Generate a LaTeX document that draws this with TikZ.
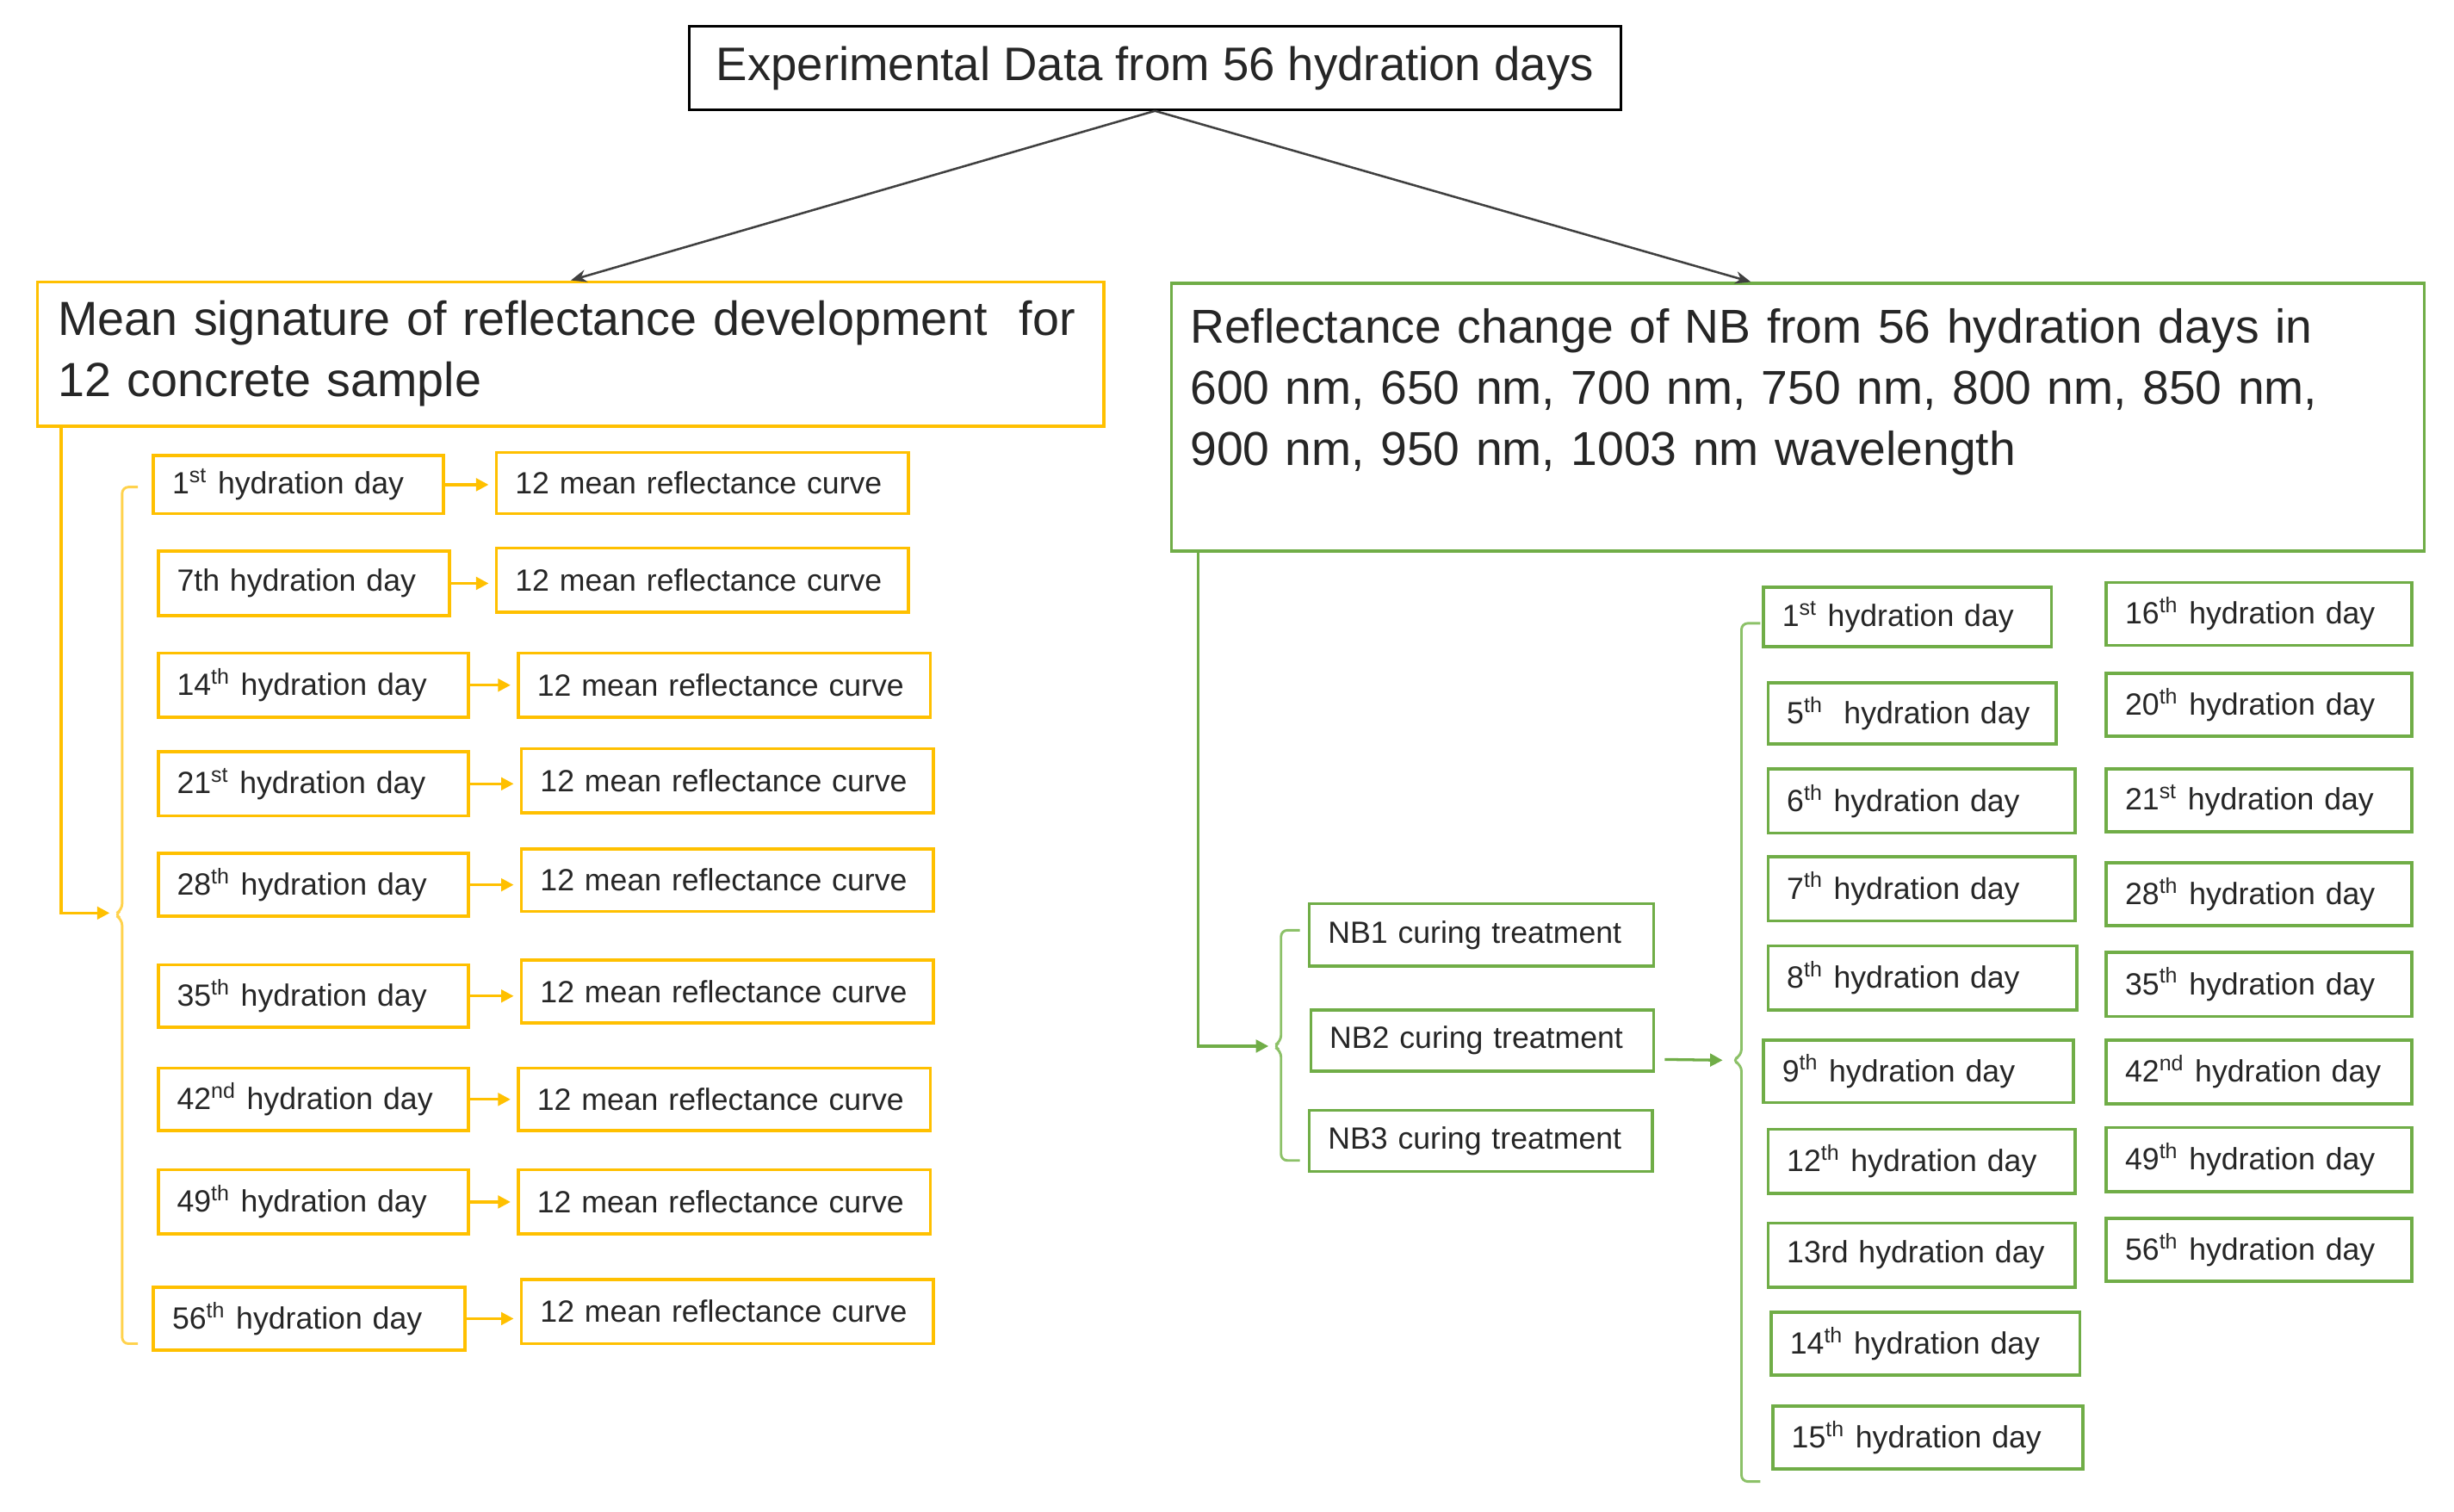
\documentclass[tikz,border=0pt]{standalone}
\usepackage{fontspec}
\setmainfont{Liberation Sans}
\usetikzlibrary{arrows.meta}
\definecolor{yel}{HTML}{FFC000}
\definecolor{yell}{HTML}{FFD24D}
\definecolor{grn}{HTML}{70AD47}
\definecolor{grnl}{HTML}{8CC168}
\definecolor{txt}{HTML}{262626}
\definecolor{arr}{HTML}{404040}
\newcommand{\bx}[7]{%
  \pgfmathsetmacro\bxw{(#5-#3)*0.5}%
  \pgfmathsetmacro\bxh{(#6-#4)*0.5}%
  \pgfmathsetmacro\bxt{(#5-#3)*0.5-12}%
  \node[#2, minimum width=\bxw pt, minimum height=\bxh pt, text width=\bxt pt] (#1) at ({(#3+#5)/2},{(#4+#6)/2}) {\mbox{#7}};}
\begin{document}
\begin{tikzpicture}[x=0.5pt,y=-0.5pt,
  smallbox/.style={draw, line width=1pt, inner xsep=6pt, inner ysep=0pt, align=left,
    font=\fontsize{9.8}{12}\selectfont, text=txt},
  ybox/.style={smallbox, draw=yel},
  gbox/.style={smallbox, draw=grn},
  headbox/.style={draw, line width=1pt, inner ysep=0pt, align=left, text=txt},
  yarr/.style={draw=yel, line width=0.9pt, -{Triangle[length=4pt,width=4pt]}},
  garr/.style={draw=grn, line width=0.9pt, -{Triangle[length=4pt,width=4pt]}},
  yline/.style={draw=yell, line width=0.8pt},
  gline/.style={draw=grnl, line width=0.8pt},
  blackarr/.style={draw=arr, line width=0.7pt, -{Stealth[length=5pt,width=4pt]}}
]
\useasboundingbox (0,0) rectangle (1567,965);

% top
\node[draw=black, line width=0.8pt, minimum width=297.5pt, minimum height=26.5pt, inner sep=0pt,
  font=\fontsize{15}{18}\selectfont, text=txt] (top) at (737.5,43.5) {Experimental Data from 56 hydration days};

% headers
\node[headbox, draw=yel, minimum width=340.5pt, minimum height=46pt, text width=327.5pt, inner xsep=6.5pt,
  font=\fontsize{15.3}{19.5}\selectfont]
  (lh) at (364.5,226) {\mbox{Mean signature of reflectance development\ \ for}\\\mbox{12 concrete sample}};
\node[headbox, draw=grn, minimum width=400pt, minimum height=85.5pt, text width=388pt, inner xsep=6pt,
  font=\fontsize{15.2}{19.5}\selectfont]
  (rh) at (1148,266.5) {\mbox{Reflectance change of NB from 56 hydration days in}\\\mbox{600 nm, 650 nm, 700 nm, 750 nm, 800 nm, 850 nm,}\\\mbox{900 nm, 950 nm, 1003 nm wavelength}\\\mbox{}};

\draw[blackarr] (top.south) -- (lh.north);
\draw[blackarr] (top.south) -- ([xshift=-15pt]rh.north);

% left rows
\bx{d1}{ybox}{98}{291}{283}{328}{1\textsuperscript{st} hydration day}
\bx{c1}{ybox}{317}{289}{580}{328}{12 mean reflectance curve}
\bx{d2}{ybox}{101}{352}{287}{393}{7th hydration day}
\bx{c2}{ybox}{317}{350}{580}{391}{12 mean reflectance curve}
\bx{d3}{ybox}{101}{417}{299}{458}{14\textsuperscript{th} hydration day}
\bx{c3}{ybox}{331}{417}{594}{458}{12 mean reflectance curve}
\bx{d4}{ybox}{101}{480}{299}{521}{21\textsuperscript{st} hydration day}
\bx{c4}{ybox}{333}{478}{596}{519}{12 mean reflectance curve}
\bx{d5}{ybox}{101}{545}{299}{585}{28\textsuperscript{th} hydration day}
\bx{c5}{ybox}{333}{542}{596}{582}{12 mean reflectance curve}
\bx{d6}{ybox}{101}{616}{299}{656}{35\textsuperscript{th} hydration day}
\bx{c6}{ybox}{333}{613}{596}{653}{12 mean reflectance curve}
\bx{d7}{ybox}{101}{682}{299}{722}{42\textsuperscript{nd} hydration day}
\bx{c7}{ybox}{331}{682}{594}{722}{12 mean reflectance curve}
\bx{d8}{ybox}{101}{747}{299}{788}{49\textsuperscript{th} hydration day}
\bx{c8}{ybox}{331}{747}{594}{788}{12 mean reflectance curve}
\bx{d9}{ybox}{98}{822}{297}{862}{56\textsuperscript{th} hydration day}
\bx{c9}{ybox}{333}{817}{596}{858}{12 mean reflectance curve}
\foreach \i in {1,...,9} \draw[yarr, shorten >=2pt] (d\i.east) -- (d\i.east -| c\i.west);

% left connector and brace
\coordinate (lnub) at (70,583);
\draw[yarr] ([xshift=8pt]lh.south west) |- (lnub);
\draw[yline, rounded corners=2pt] (88,311) -- (78,311) -- (78,581) -- (73,584) -- (78,587) -- (78,858) -- (88,858);

% NB boxes
\bx{n1}{gbox}{836}{577}{1056}{617}{NB1 curing treatment}
\bx{n2}{gbox}{837}{645}{1056}{684}{NB2 curing treatment}
\bx{n3}{gbox}{836}{709}{1055}{748}{NB3 curing treatment}
\coordinate (rnub) at (810,668);
\draw[garr] ([xshift=9pt]rh.south west) |- (rnub);
\draw[gline, rounded corners=2pt] (830,594) -- (818,594) -- (818,665) -- (813,668) -- (818,671) -- (818,741) -- (830,741);

% right day boxes col 1
\bx{r1}{gbox}{1126}{375}{1310}{413}{1\textsuperscript{st} hydration day}
\bx{r2}{gbox}{1129}{436}{1313}{475}{5\textsuperscript{th}~ hydration day}
\bx{r3}{gbox}{1129}{491}{1325}{532}{6\textsuperscript{th} hydration day}
\bx{r4}{gbox}{1129}{547}{1325}{588}{7\textsuperscript{th} hydration day}
\bx{r5}{gbox}{1129}{604}{1326}{645}{8\textsuperscript{th} hydration day}
\bx{r6}{gbox}{1126}{664}{1324}{704}{9\textsuperscript{th} hydration day}
\bx{r7}{gbox}{1129}{721}{1325}{762}{12\textsuperscript{th} hydration day}
\bx{r8}{gbox}{1129}{781}{1325}{822}{13rd hydration day}
\bx{r9}{gbox}{1131}{838}{1328}{878}{14\textsuperscript{th} hydration day}
\bx{r10}{gbox}{1132}{898}{1330}{938}{15\textsuperscript{th} hydration day}
% col 2
\bx{s1}{gbox}{1345}{372}{1540}{412}{16\textsuperscript{th} hydration day}
\bx{s2}{gbox}{1345}{430}{1540}{470}{20\textsuperscript{th} hydration day}
\bx{s3}{gbox}{1345}{491}{1540}{531}{21\textsuperscript{st} hydration day}
\bx{s4}{gbox}{1345}{551}{1540}{591}{28\textsuperscript{th} hydration day}
\bx{s5}{gbox}{1345}{608}{1540}{649}{35\textsuperscript{th} hydration day}
\bx{s6}{gbox}{1345}{664}{1540}{705}{42\textsuperscript{nd} hydration day}
\bx{s7}{gbox}{1345}{720}{1540}{761}{49\textsuperscript{th} hydration day}
\bx{s8}{gbox}{1345}{778}{1540}{818}{56\textsuperscript{th} hydration day}

\coordinate (dnub) at (1100,677);
\draw[garr] ([yshift=-6pt,xshift=3pt]n2.east) -- (dnub);
\draw[gline, rounded corners=2pt] (1124,398) -- (1112,398) -- (1112,674) -- (1106,677) -- (1112,680) -- (1112,946) -- (1124,946);
\end{tikzpicture}
\end{document}
